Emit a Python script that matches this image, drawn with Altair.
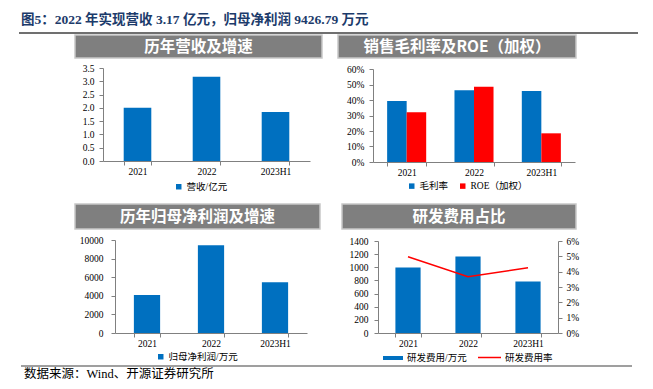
import altair as alt
import pandas as pd

# ---------------- data ----------------
years = ["2021", "2022", "2023H1"]
revenue = [2.0, 3.17, 1.84]                 # 营收/亿元
gross_margin = [0.394, 0.463, 0.458]        # 毛利率
roe = [0.321, 0.486, 0.185]                 # ROE（加权）
net_profit = [4090, 9426.79, 5450]          # 归母净利润/万元
rd_expense = [995, 1165, 785]               # 研发费用/万元
rd_rate = [0.0497, 0.0367, 0.0426]          # 研发费用率

main_title = "图5：2022 年实现营收 3.17 亿元，归母净利润 9426.79 万元"
panel_titles = ["历年营收及增速", "销售毛利率及ROE（加权）", "历年归母净利润及增速", "研发费用占比"]
source_text = "数据来源：Wind、开源证券研究所"
lg_rev = "营收/亿元"
lg_gm = "毛利率"
lg_roe = "ROE（加权）"
lg_np = "归母净利润/万元"
lg_rd = "研发费用/万元"
lg_rate = "研发费用率"

# ---------------- style ----------------
W, H = 637, 373
M = 8
BLUE = "#0070C0"
RED = "#FF0000"
GREY = "#7F7F7F"
AX = "#808080"
SERIF = "Liberation Serif, Noto Sans CJK SC"
SANS = "Noto Sans CJK SC"
FS = 9.5


def px(v):
    return v - M


def x_axis(axis_y):
    return alt.Axis(orient="bottom", offset=px(axis_y) - H, title=None, labelAngle=0,
                    tickBand="extent", tickSize=4, labelPadding=1, domainColor=AX,
                    tickColor=AX, labelFont=SERIF, labelFontSize=FS, labelColor="black",
                    grid=False)


def y_axis(axis_x, values, fmt, pad, orient="left"):
    off = -px(axis_x) if orient == "left" else px(axis_x) - W
    return alt.Axis(orient=orient, offset=off, title=None, values=values, format=fmt,
                    tickSize=4, labelPadding=pad, domainColor=AX, tickColor=AX,
                    labelFont=SERIF, labelFontSize=FS, labelColor="black", grid=False)


def band(x0, x1, pin):
    return alt.Scale(type="band", range=[px(x0), px(x1)], paddingInner=pin, paddingOuter=pin / 2)


def legend(lx, ly, **kw):
    base = dict(orient="none", legendX=px(lx), legendY=px(ly), title=None,
                direction="horizontal", labelFont=SERIF, labelFontSize=FS,
                labelColor="black", padding=0, labelOffset=3, labelLimit=200)
    base.update(kw)
    return alt.Legend(**base)


def header(x0, x1, y0, y1, text):
    box = alt.Chart(pd.DataFrame({"t": [text]})).mark_rect(
        fill=GREY, stroke="#C8C8C8", strokeWidth=1.5
    ).encode(x=alt.value(px(x0)), x2=alt.value(px(x1)), y=alt.value(px(y0)), y2=alt.value(px(y1)))
    lab = alt.Chart(pd.DataFrame({"t": [text]})).mark_text(
        font=SANS, fontSize=15.5, fontWeight="bold", color="white", align="center", baseline="middle"
    ).encode(text="t:N", x=alt.value(px((x0 + x1) / 2)), y=alt.value(px((y0 + y1) / 2) + 0.5))
    return [box, lab]


layers = []

# ---------- panel 1: 营收 ----------
df1 = pd.DataFrame({"year": years, "value": revenue, "series": [lg_rev] * 3})
p1 = alt.Chart(df1).mark_bar(color=BLUE).encode(
    x=alt.X("year:N", sort=years, scale=band(103, 310, 0.6), axis=x_axis(161)),
    y=alt.Y("value:Q", scale=alt.Scale(domain=[0, 3.5], range=[px(161), px(68)], nice=False, zero=True),
            axis=y_axis(103, [0, 0.5, 1, 1.5, 2, 2.5, 3, 3.5], ".1f", 5)),
    color=alt.Color("series:N", scale=alt.Scale(domain=[lg_rev], range=[BLUE]),
                    legend=legend(174, 182, symbolType="square", symbolSize=30)),
)
layers += header(75, 322, 35, 58, panel_titles[0]) + [p1]

# ---------- panel 2: 毛利率 & ROE ----------
df2 = pd.DataFrame({
    "year": years * 2,
    "metric": [lg_gm] * 3 + [lg_roe] * 3,
    "value": gross_margin + roe,
})
p2 = alt.Chart(df2).mark_bar().encode(
    x=alt.X("year:N", sort=years, scale=band(373, 575, 0.42), axis=x_axis(162)),
    xOffset=alt.XOffset("metric:N", sort=[lg_gm, lg_roe],
                        scale=alt.Scale(domain=[lg_gm, lg_roe], paddingInner=0, paddingOuter=0)),
    y=alt.Y("value:Q", scale=alt.Scale(domain=[0, 0.6], range=[px(162), px(69)], nice=False),
            axis=y_axis(373, [0, 0.1, 0.2, 0.3, 0.4, 0.5, 0.6], ".0%", 5)),
    color=alt.Color("metric:N", scale=alt.Scale(domain=[lg_gm, lg_roe], range=[BLUE, RED]),
                    legend=legend(407, 181, symbolType="square", symbolSize=30, columnPadding=9)),
)
layers += header(338, 576, 35, 58, panel_titles[1]) + [p2]

# ---------- panel 3: 归母净利润 ----------
df3 = pd.DataFrame({"year": years, "value": net_profit, "series": [lg_np] * 3})
p3 = alt.Chart(df3).mark_bar(color=BLUE).encode(
    x=alt.X("year:N", sort=years, scale=band(115, 307, 0.59), axis=x_axis(333)),
    y=alt.Y("value:Q", scale=alt.Scale(domain=[0, 10000], range=[px(333), px(240)], nice=False),
            axis=y_axis(115, [0, 2000, 4000, 6000, 8000, 10000], "d", 8)),
    color=alt.Color("series:N", scale=alt.Scale(domain=[lg_np], range=[BLUE]),
                    legend=legend(156, 352, symbolType="square", symbolSize=30)),
)
layers += header(75, 320, 204, 229, panel_titles[2]) + [p3]

# ---------- panel 4: 研发费用 ----------
df4 = pd.DataFrame({"year": years, "value": rd_expense, "rate": rd_rate,
                    "s1": [lg_rd] * 3, "s2": [lg_rate] * 3})
p4_bar = alt.Chart(df4).mark_bar(color=BLUE).encode(
    x=alt.X("year:N", sort=years, scale=band(378, 558, 0.58), axis=x_axis(333)),
    y=alt.Y("value:Q", scale=alt.Scale(domain=[0, 1400], range=[px(333), px(241)], nice=False),
            axis=y_axis(378, [0, 200, 400, 600, 800, 1000, 1200, 1400], "d", 6)),
    color=alt.Color("s1:N", scale=alt.Scale(domain=[lg_rd], range=[BLUE]),
                    legend=legend(382, 347, symbolType="M-1,-0.2H1V0.2H-1Z", symbolSize=400)),
)
p4_line = alt.Chart(df4).mark_line(strokeWidth=1.5).encode(
    x=alt.X("year:N", sort=years, scale=band(378, 558, 0.58), axis=None, bandPosition=0.5),
    y=alt.Y("rate:Q", scale=alt.Scale(domain=[0, 0.06], range=[px(333), px(241)], nice=False),
            axis=y_axis(558, [0, 0.01, 0.02, 0.03, 0.04, 0.05, 0.06], ".0%", 4, orient="right")),
    color=alt.Color("s2:N", scale=alt.Scale(domain=[lg_rate], range=[RED]),
                    legend=legend(477, 345, symbolType="stroke", symbolSize=529, symbolStrokeWidth=1.5)),
)
layers += header(342, 576, 204, 229, panel_titles[3]) + [p4_bar, p4_line]

# ---------- title, lines, source ----------
title = alt.Chart(pd.DataFrame({"t": [main_title]})).mark_text(
    font=SERIF, fontSize=13.5, fontWeight="bold", color="#1C3B6B", align="left", baseline="middle"
).encode(text="t:N", x=alt.value(px(21)), y=alt.value(px(20)))
top_rule = alt.Chart(pd.DataFrame({"t": [0]})).mark_rule(color="#404040", strokeWidth=1.5).encode(
    x=alt.value(px(19)), x2=alt.value(px(638)), y=alt.value(px(33)))
bottom_rule = alt.Chart(pd.DataFrame({"t": [0]})).mark_rule(color="#404040", strokeWidth=1.2).encode(
    x=alt.value(px(21)), x2=alt.value(px(632)), y=alt.value(px(366)))
source = alt.Chart(pd.DataFrame({"t": [source_text]})).mark_text(
    font=SERIF, fontSize=12.5, color="black", align="left", baseline="middle"
).encode(text="t:N", x=alt.value(px(24)), y=alt.value(px(374)))
layers += [title, top_rule, bottom_rule, source]

chart = alt.layer(*layers).resolve_scale(
    x="independent", y="independent", color="independent"
).properties(
    width=W, height=H, autosize=alt.AutoSizeParams(type="none"), padding=0
).configure_view(stroke=None)

chart.save("out.html", embed_options={"renderer": "svg", "actions": False})
